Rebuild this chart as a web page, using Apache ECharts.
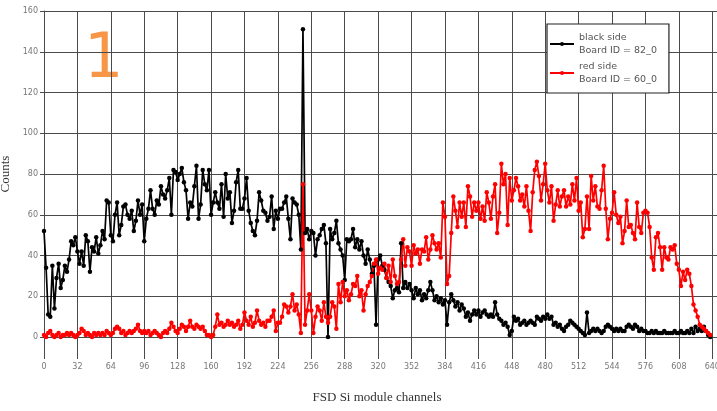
<!DOCTYPE html>
<html>
<head>
<meta charset="utf-8">
<script src="https://cdn.jsdelivr.net/npm/echarts@6/dist/echarts.min.js"></script>
<style>
  html, body { margin: 0; padding: 0; background: #fff; }
  #chart { width: 717px; height: 411px; }
</style>
</head>
<body>
<div id="chart"></div>
<script>
// one reading every 2nd channel
const channelStep = 2;

// black side, Board ID = 82_0 (channels 0..638)
const blackCounts = [
  52,34,11,10,35,14,29,36,24,28,35,32,38,47,45,49,
  42,36,42,35,50,47,32,44,42,49,41,45,52,48,67,66,
  50,47,60,66,50,55,64,65,60,58,62,52,57,67,60,65,
  47,58,63,72,63,60,67,65,74,70,68,72,78,60,82,81,
  77,80,83,76,72,58,66,64,74,84,58,65,82,75,72,82,
  60,66,71,66,63,75,59,80,68,71,56,62,76,82,63,63,
  68,78,62,56,52,50,57,71,67,62,61,57,59,69,53,62,
  58,63,63,66,69,58,48,68,66,65,60,43,151,51,53,48,
  52,51,40,48,50,53,55,46,0,53,48,51,57,46,43,40,
  28,48,47,48,53,44,48,43,47,40,36,43,38,31,35,6,
  38,40,35,33,29,27,25,19,23,24,22,46,24,27,24,26,
  23,19,24,21,23,18,21,19,23,27,23,18,20,17,19,16,
  18,6,17,21,18,15,17,13,16,14,10,12,8,11,13,11,
  13,10,12,13,11,10,11,10,17,11,9,8,6,7,5,1,
  3,10,8,9,6,7,8,6,7,8,7,6,10,9,8,10,
  9,11,9,10,6,7,5,6,4,3,5,6,8,7,6,5,
  4,3,2,1,12,2,3,4,3,4,3,2,3,5,6,5,
  4,3,4,3,4,3,3,5,6,5,4,6,5,3,4,3,
  3,2,2,3,2,3,2,2,2,3,2,2,2,2,3,2,
  2,3,2,2,3,2,4,2,5,3,4,3,5,3,1,0
];

// red side, Board ID = 60_0 (channels 0..638)
const redCounts = [
  1,0,2,3,1,0,1,2,0,1,1,2,1,2,1,0,
  1,2,4,3,1,2,1,0,2,1,2,1,2,1,3,2,
  1,2,4,5,4,2,3,1,2,3,2,3,4,6,3,2,
  3,2,3,1,2,3,2,1,0,2,3,2,4,7,5,3,
  2,4,6,5,3,5,8,5,4,6,5,4,5,3,1,1,
  0,1,5,11,6,7,5,6,8,6,7,5,6,8,4,6,
  12,8,6,10,5,7,13,8,6,7,5,8,8,10,13,3,
  7,7,10,16,15,12,15,21,13,16,11,2,75,6,13,21,
  13,2,10,15,13,8,17,10,7,10,17,15,4,26,17,27,
  20,23,18,21,26,25,30,20,23,13,21,25,27,30,36,38,
  31,34,33,36,29,35,27,38,30,26,27,38,48,35,44,42,
  35,45,41,43,36,43,42,49,38,43,50,46,43,46,39,66,
  59,26,30,51,69,62,54,66,59,66,54,74,69,59,66,62,
  66,58,64,57,71,66,58,69,75,51,61,85,75,80,55,78,
  67,72,78,74,67,70,64,74,62,52,71,82,86,79,67,75,
  85,72,66,74,57,65,72,64,69,72,64,69,65,75,67,78,
  62,66,49,53,69,53,79,67,74,64,63,72,84,63,48,58,
  61,71,60,56,59,46,52,67,54,55,51,48,66,54,51,61,
  62,61,54,39,33,49,51,44,33,44,39,38,44,43,45,36,
  33,25,32,28,33,31,25,16,13,10,6,5,4,3,2,1
];

const seriesNames = ['black side\nBoard ID = 82_0', 'red side\nBoard ID = 60_0'];
const seriesColors = ['#000000', '#ff0000'];

// axes
const xMin = 0, xMax = 672, xStep = 32, xLastLabel = 640;
const yMin = 0, yMax = 160, yStep = 20;

const gridColor = '#4a4a4a';
const tickFont = 'DejaVu Sans';
const titleFont = 'Liberation Serif';

function toPoints(counts) {
  return counts.map((c, i) => [i * channelStep, c]);
}

function lineSeries(name, counts, color) {
  return {
    name: name,
    type: 'line',
    data: toPoints(counts),
    symbol: 'circle',
    symbolSize: 4.5,
    showAllSymbol: true,
    clip: false,
    itemStyle: { color: color },
    lineStyle: { color: color, width: 1.7 },
    emphasis: { disabled: true }
  };
}

let myChart = echarts.init(document.getElementById('chart'));
let option = {
  animation: false,
  backgroundColor: '#fff',
  grid: { left: 44, right: -28.7, top: 11, bottom: 74, outerBoundsMode: 'none' },
  xAxis: {
    type: 'value',
    min: xMin, max: xMax, interval: xStep,
    axisLine: { show: true, lineStyle: { color: gridColor, width: 1 } },
    axisTick: { show: true, length: 22, lineStyle: { color: gridColor, width: 1 } },
    axisLabel: {
      margin: 26, fontFamily: tickFont, fontSize: 8, color: '#777',
      formatter: v => (v <= xLastLabel ? String(v) : '')
    },
    splitLine: { show: true, lineStyle: { color: gridColor, width: 1 } }
  },
  yAxis: {
    type: 'value',
    min: yMin, max: yMax, interval: yStep,
    name: 'Counts',
    nameLocation: 'middle',
    nameGap: 31,
    nameTextStyle: { fontFamily: titleFont, fontSize: 13, color: '#333' },
    axisLine: { show: true, lineStyle: { color: gridColor, width: 1 } },
    axisTick: { show: true, length: 4, lineStyle: { color: gridColor, width: 1 } },
    axisLabel: { margin: 6, fontFamily: tickFont, fontSize: 8, color: '#777' },
    splitLine: { show: true, lineStyle: { color: gridColor, width: 1 } }
  },
  legend: {
    orient: 'vertical',
    left: 547, top: 24,
    backgroundColor: '#fff',
    borderColor: '#222', borderWidth: 1.2,
    padding: [7, 12, 7, 2],
    itemGap: 3,
    itemWidth: 24, itemHeight: 5,
    textStyle: { fontFamily: tickFont, fontSize: 9.5, color: '#555', lineHeight: 13 },
    data: seriesNames
  },
  graphic: [
    {
      type: 'text', x: 84, y: 30,
      style: { text: '1', fontFamily: 'DejaVu Sans', fontSize: 62, fill: '#F79646' }
    },
    {
      type: 'text', x: 377, y: 398,
      style: {
        text: 'FSD Si module channels', fontFamily: titleFont, fontSize: 13, fill: '#333',
        align: 'center', verticalAlign: 'middle'
      }
    }
  ],
  series: [
    lineSeries(seriesNames[0], blackCounts, seriesColors[0]),
    lineSeries(seriesNames[1], redCounts, seriesColors[1])
  ]
};
myChart.setOption(option);
</script>
</body>
</html>
